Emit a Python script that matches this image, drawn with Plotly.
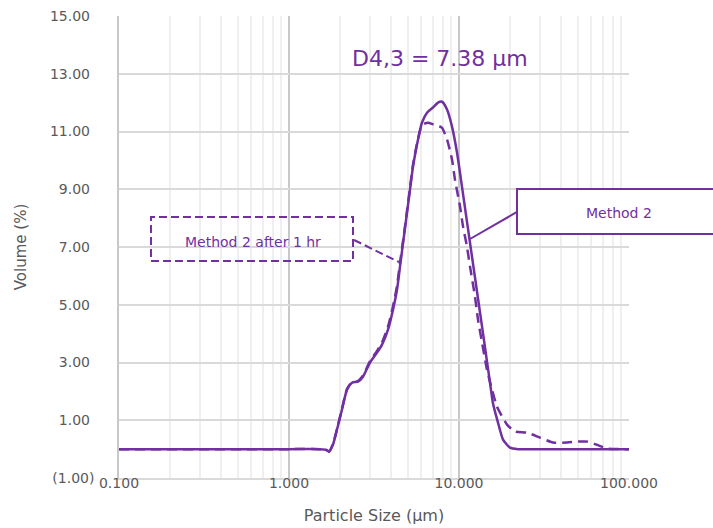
import plotly.graph_objects as go

# ---- data ----
size_m2 = [0.1, 1.0, 1.522, 1.651, 1.719, 1.815, 1.916, 2.050, 2.194, 2.348,
           2.546, 2.725, 2.996, 3.294, 3.525, 3.823, 4.091, 4.318, 4.497, 4.748,
           4.945, 5.150, 5.363, 5.740, 6.060, 6.484, 7.032, 7.525, 7.943, 8.503,
           9.097, 9.733, 10.41, 11.14, 11.92, 12.59, 13.29, 14.04, 14.61, 15.22,
           15.85, 16.96, 18.15, 19.95, 22.24, 30.0, 100.0]
vol_m2 = [0, 0, 0, -0.02, -0.09, 0.16, 0.68, 1.37, 2.06, 2.30,
          2.34, 2.51, 3.00, 3.34, 3.62, 4.14, 4.83, 5.52, 6.32, 7.39,
          8.19, 8.99, 9.78, 10.72, 11.31, 11.65, 11.83, 12.0, 12.03, 11.76,
          11.17, 10.27, 9.09, 7.88, 6.67, 5.70, 4.73, 3.76, 3.03, 2.30,
          1.58, 0.92, 0.33, 0.05, 0, 0, 0]

size_1hr = [0.1, 1.0, 1.522, 1.651, 1.719, 1.815, 1.916, 2.050, 2.194, 2.348,
            2.546, 2.725, 2.996, 3.294, 3.525, 3.823, 4.091, 4.318, 4.497, 4.748,
            4.945, 5.150, 5.363, 5.740, 6.060, 6.572, 7.032, 7.525, 7.943, 8.503,
            9.097, 9.473, 10.14, 10.56, 11.14, 11.61, 12.42, 12.94, 13.66, 14.61,
            15.64, 16.73, 17.67, 19.16, 21.36, 25.12, 29.96, 35.72, 43.17, 50.12,
            57.40, 64.82, 74.25, 100.0]
vol_1hr = [0, 0, 0, -0.02, -0.08, 0.18, 0.70, 1.40, 2.08, 2.32,
           2.36, 2.55, 3.05, 3.40, 3.70, 4.25, 4.95, 5.65, 6.45, 7.45,
           8.25, 9.05, 9.85, 10.75, 11.22, 11.30, 11.25, 11.20, 11.13, 10.72,
           10.03, 9.33, 8.40, 7.71, 7.01, 6.32, 5.28, 4.48, 3.69, 2.75,
           2.06, 1.47, 1.20, 0.85, 0.61, 0.57, 0.40, 0.23, 0.23, 0.26,
           0.26, 0.15, 0.02, 0]

x_tickvals = [0.1, 1, 10, 100]
x_ticktext = ["0.100", "1.000", "10.000", "100.000"]
y_tickvals = [-1, 1, 3, 5, 7, 9, 11, 13, 15]
y_ticktext = ["(1.00)", "1.00\u00a0", "3.00\u00a0", "5.00\u00a0", "7.00\u00a0",
              "9.00\u00a0", "11.00\u00a0", "13.00\u00a0", "15.00\u00a0"]

PURPLE = "#7030A0"
GRAY = "#595959"
FONT = "DejaVu Sans"

fig = go.Figure()
fig.add_trace(go.Scatter(x=size_1hr, y=vol_1hr, mode="lines", name="Method 2 after 1 hr",
                         line=dict(color=PURPLE, width=2.5, dash="10px,6px", shape="spline", smoothing=0.6),
                         hoverinfo="x+y"))
fig.add_trace(go.Scatter(x=size_m2, y=vol_m2, mode="lines", name="Method 2",
                         line=dict(color=PURPLE, width=2.5, shape="spline", smoothing=0.6),
                         hoverinfo="x+y"))

fig.update_layout(
    width=713, height=528,
    margin=dict(l=119, r=84, t=16, b=50),
    paper_bgcolor="white", plot_bgcolor="white",
    showlegend=False,
    font=dict(family=FONT, color=GRAY, size=14),
)
fig.update_xaxes(
    type="log", range=[-1, 2], automargin=False,
    tickvals=x_tickvals, ticktext=x_ticktext,
    showgrid=True, gridcolor="#C8C8C8", gridwidth=1.5,
    minor=dict(showgrid=True, gridcolor="#EFEFEF", gridwidth=1.5, dtick="D1", ticks=""),
    showline=True, linecolor="#D9D9D9", linewidth=1.5,
    ticks="", ticklabelstandoff=-9,
    tickfont=dict(size=14, color=GRAY, family=FONT),
    title=dict(text="Particle Size (μm)", font=dict(size=16, color=GRAY, family=FONT), standoff=20),
    zeroline=False,
)
fig.update_yaxes(
    range=[-1, 15], automargin=False,
    tickvals=y_tickvals, ticktext=y_ticktext,
    showgrid=True, gridcolor="#D9D9D9", gridwidth=1.5,
    showline=True, linecolor="#C8C8C8", linewidth=1.5,
    ticks="", ticklabelstandoff=20,
    tickfont=dict(size=14, color=GRAY, family=FONT),
    title=dict(text="Volume (%)", font=dict(size=15, color=GRAY, family=FONT), standoff=20),
    zeroline=False,
)

# Callout: Method 2 (solid box, partly outside the chart)
fig.add_shape(type="rect", xref="paper", yref="paper", x0=0.7804, x1=1.25, y0=0.5281, y1=0.6255,
              line=dict(color=PURPLE, width=2), fillcolor="white", layer="above")
fig.add_shape(type="line", xref="paper", yref="paper", x0=0.7804, y0=0.5758, x1=0.6882, y1=0.5173,
              line=dict(color=PURPLE, width=2))
fig.add_annotation(xref="paper", yref="paper", x=0.980, y=0.5736, text="Method 2", showarrow=False,
                   font=dict(size=14, color=PURPLE, family=FONT), xanchor="center", yanchor="middle")

# Callout: Method 2 after 1 hr (dashed box)
fig.add_shape(type="rect", xref="paper", yref="paper", x0=0.0627, x1=0.4588, y0=0.4697, y1=0.5649,
              line=dict(color=PURPLE, width=2, dash="8px,4px"), layer="above")
fig.add_shape(type="line", xref="paper", yref="paper", x0=0.4608, y0=0.5152, x1=0.549, y1=0.4675,
              line=dict(color=PURPLE, width=2, dash="8px,4px"))
fig.add_annotation(xref="paper", yref="paper", x=0.2618, y=0.5108, text="Method 2 after 1 hr", showarrow=False,
                   font=dict(size=14, color=PURPLE, family=FONT), xanchor="center", yanchor="middle")

# D4,3 label
fig.add_annotation(xref="paper", yref="paper", x=(440 - 119) / 510, y=(478 - 58) / 462,
                   text="D4,3 = 7.38 μm", showarrow=False,
                   font=dict(size=22, color=PURPLE, family=FONT), xanchor="center", yanchor="middle")

fig.write_html("out.html")
